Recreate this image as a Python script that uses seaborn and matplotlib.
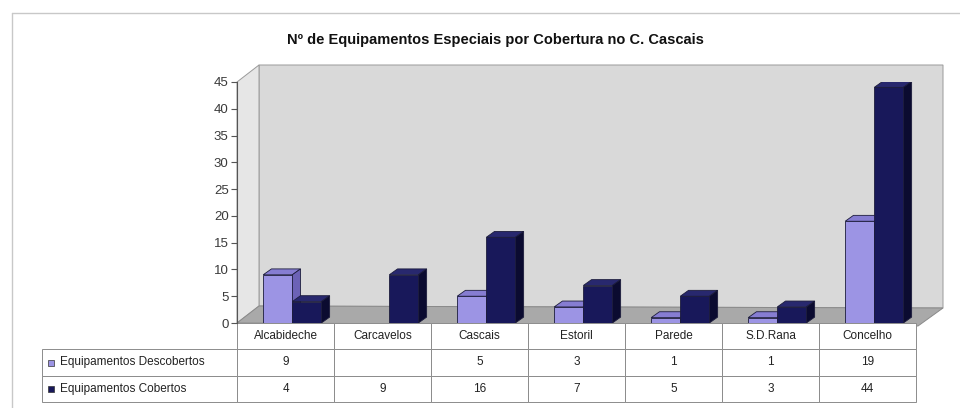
import numpy as np
import pandas as pd
import matplotlib
matplotlib.use("Agg")
import matplotlib.pyplot as plt
from matplotlib.patches import Polygon
import seaborn as sns

# ---- data ----
categories = ["Alcabideche", "Carcavelos", "Cascais", "Estoril", "Parede", "S.D.Rana", "Concelho"]
descobertos = [9, np.nan, 5, 3, 1, 1, 19]
cobertos = [4, 9, 16, 7, 5, 3, 44]
series_names = ["Equipamentos Descobertos", "Equipamentos Cobertos"]
yticks = [0, 5, 10, 15, 20, 25, 30, 35, 40, 45]
title = "Nº de Equipamentos Especiais por Cobertura no C. Cascais"

sns.set_theme(style="white")
plt.rcParams["font.family"] = ["Liberation Sans", "DejaVu Sans"]

df = pd.DataFrame({
    "cat": categories * 2,
    "serie": [series_names[0]] * 7 + [series_names[1]] * 7,
    "val": list(descobertos) + list(cobertos),
})

front = {series_names[0]: "#9c94e4", series_names[1]: "#18185a"}
top_c = {series_names[0]: "#867dd2", series_names[1]: "#28286e"}
side_c = {series_names[0]: "#6c62b6", series_names[1]: "#0b0b30"}

W, H = 960, 408
fig = plt.figure(figsize=(9.6, 4.08), dpi=100)
ax_l, ax_r, ax_t, ax_b = 237, 916, 82, 323
ax = fig.add_axes([ax_l / W, 1 - ax_b / H, (ax_r - ax_l) / W, (ax_b - ax_t) / H])
ax.set_facecolor("none")
ax.set_zorder(1)

# chart border (top & left)
fig.add_artist(plt.Line2D([12 / W, 1.0], [1 - 13 / H] * 2, color="#c8c8c8", lw=1.0, transform=fig.transFigure))
fig.add_artist(plt.Line2D([12 / W] * 2, [1 - 13 / H, 0.0], color="#c8c8c8", lw=1.0, transform=fig.transFigure))

# 3D walls (figure pixel geometry)
dx, dy = 22, 17
def fpoly(pts, **kw):
    p = Polygon([(x / W, 1 - y / H) for x, y in pts], closed=True, transform=fig.transFigure, **kw)
    fig.patches.append(p)
fpoly([(ax_l + dx, ax_t - dy), (ax_r + dx + 5, ax_t - dy), (ax_r + dx + 5, ax_b - dy + 2), (ax_l + dx, ax_b - dy)],
      facecolor="#d9d9d9", edgecolor="#9a9a9a", lw=0.7, zorder=-1)
fpoly([(ax_l, ax_t), (ax_l + dx, ax_t - dy), (ax_l + dx, ax_b - dy), (ax_l, ax_b)],
      facecolor="#e6e6e6", edgecolor="#9a9a9a", lw=0.7, zorder=-1)
fpoly([(ax_l, ax_b), (ax_l + dx, ax_b - dy), (ax_r + dx + 5, ax_b - dy + 2), (ax_r + 2, ax_b + 3)],
      facecolor="#a9a9a9", edgecolor="#8a8a8a", lw=0.7, zorder=-1)

sns.barplot(data=df, x="cat", y="val", hue="serie", order=categories, hue_order=series_names,
            palette=front, width=0.6, ax=ax, legend=False, errorbar=None,
            edgecolor="#1c1c3c", linewidth=0.6, saturation=1)

# pseudo-3D faces for bars
bars = [p for p in ax.patches if np.isfinite(p.get_height()) and p.get_height() > 0]
bars.sort(key=lambda p: p.get_x())
ddx, ddy = 0.085, 1.1
for i, p in enumerate(bars):
    x, w, h = p.get_x(), p.get_width(), p.get_height()
    fc = p.get_facecolor()
    key = series_names[0] if fc[0] > 0.4 else series_names[1]
    z = 3 + i * 0.01
    p.set_zorder(z)
    ax.add_patch(Polygon([(x, h), (x + ddx, h + ddy), (x + w + ddx, h + ddy), (x + w, h)],
                         facecolor=top_c[key], edgecolor="#1c1c3c", lw=0.6, zorder=z - 0.001))
    ax.add_patch(Polygon([(x + w, 0), (x + w + ddx, ddy), (x + w + ddx, h + ddy), (x + w, h)],
                         facecolor=side_c[key], edgecolor="#1c1c3c", lw=0.6, zorder=z - 0.001))

# bars sit at mid-depth: view window shifted slightly left
ax.set_xlim(-0.57, 6.43)
ax.set_ylim(0, 45)
ax.set_yticks(yticks)
ax.set_yticklabels([str(t) for t in yticks], fontsize=9.5, color="#3a3a3a")
ax.tick_params(axis="y", left=True, length=4, width=0.8, color="#555555", pad=2)
ax.set_xticks([])
ax.set_xlabel("")
ax.set_ylabel("")
for s in ["top", "right", "bottom"]:
    ax.spines[s].set_visible(False)
ax.spines["left"].set_color("#555555")
ax.spines["left"].set_linewidth(0.8)

# data table
def fmt(v):
    return "" if not np.isfinite(v) else str(int(v))
cell_text = [[""] + categories,
             [series_names[0]] + [fmt(v) for v in descobertos],
             [series_names[1]] + [fmt(v) for v in cobertos]]
axw = ax_r - ax_l
lab_w = ax_l - 42
tb_h = 402 - ax_b
tbl = ax.table(cellText=cell_text, cellLoc="center",
               colWidths=[lab_w / axw] + [1 / 7] * 7,
               bbox=[-lab_w / axw, -tb_h / (ax_b - ax_t), (lab_w + axw) / axw, tb_h / (ax_b - ax_t)])
tbl.auto_set_font_size(False)
tbl.set_fontsize(8.5)
for (r, c), cell in tbl.get_celld().items():
    cell.set_edgecolor("#8c8c8c")
    cell.set_linewidth(0.7)
    cell.set_facecolor("white")
    cell.get_text().set_color("#222222")
    if r == 0 and c == 0:
        cell.visible_edges = ""
    if c == 0 and r > 0:
        cell.get_text().set_horizontalalignment("left")
        cell.PAD = 0.09
        cell.get_text().set_fontsize(8.5)

# legend keys in the table
for r, name in zip([1, 2], series_names):
    yc = -tb_h / (ax_b - ax_t) * ((2 * r + 1) / 6)
    ax.plot([(-lab_w + 9) / axw], [yc], marker="s", markersize=5, color=front[name],
            markeredgecolor="#333333", markeredgewidth=0.5, transform=ax.transAxes, clip_on=False)

fig.text(495 / W, 1 - 40 / H, title, ha="center", va="center", fontsize=10.5, fontweight="bold", color="#111111")

fig.savefig("out.png", dpi=100)
